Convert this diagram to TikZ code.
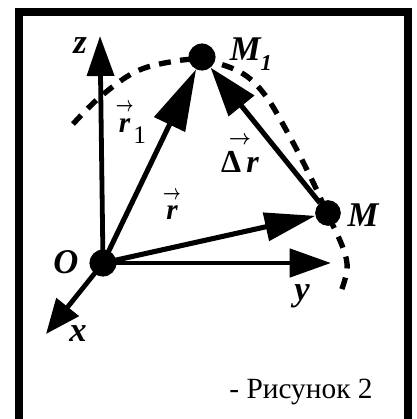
\documentclass[tikz,border=0pt]{standalone}
\usepackage{amsmath}
\usepackage{fontspec}
\setmainfont{Liberation Serif}
\usetikzlibrary{arrows.meta}
\tikzset{
  dot/.style    = {circle, fill=black, inner sep=0pt, minimum size=20pt},
  axis/.style   = {line width=3.6pt},
  vecar/.style  = {line width=3.8pt},
  traj/.style   = {line width=4pt, dash pattern=on 9pt off 7pt},
  lbl/.style    = {font=\fontsize{26}{26}\selectfont\bfseries\itshape, inner sep=0pt},
  vlbl/.style   = {font=\fontsize{22}{22}\selectfont\bfseries\itshape, inner sep=0pt},
  frame/.style  = {line width=5.5pt, line join=miter},
}
\newcommand{\arrowtop}[2]{$\overset{\raisebox{1pt}{\scalebox{#2}[1.1]{\boldmath$\scriptstyle\rightarrow$}}}{\mbox{#1}}$}
\begin{document}
\begin{tikzpicture}[x=0.75pt, y=-0.75pt]
  \useasboundingbox (0,0) rectangle (417,419);
  \draw[frame] (19,430) -- (19,12) -- (408,12) -- (408,430);

  % points
  \node[dot] (O)  at (103,263) {};
  \node[dot, minimum size=19pt] (M)  at (328,213) {};
  \node[dot] (M1) at (202,57) {};
  \coordinate (zend) at (100,36);
  \coordinate (yend) at (331,263);
  \coordinate (xend) at (46,334);

  % trajectory
  \draw[traj] plot[smooth, tension=0.6] coordinates {
    (73,124) (100,97) (135,72) (170,62) (202,60) (240,72) (265,95)
    (290,137) (312,180) (328,215) (343,248) (347,270) (339,297)};

  % axes
  \draw[axis, -{Triangle[length=30pt, width=20pt]}] (O.center) -- (zend);
  \draw[axis, -{Triangle[length=31pt, width=21pt]}] (O.center) -- (yend);
  \draw[axis, -{Triangle[length=26pt, width=21pt]}] (O.center) -- (xend);

  % vectors
  \draw[vecar, -{Triangle[length=46pt, width=25pt]}] (O.center) -- (M1);
  \draw[vecar, -{Triangle[length=38pt, width=21pt]}] (O.center) -- (M);
  \draw[vecar, -{Triangle[length=37pt, width=24pt]}] (M) -- (M1);

  \node[dot] at (O) {};
  \node[dot, minimum size=19pt] at (M) {};
  \node[dot] at (M1) {};

  % labels
  \node[lbl] (zl)  at (80,46)   {z};
  \node[lbl] (yl)  at (302,296) {y};
  \node[lbl] (xl)  at (78,334)  {x};
  \node[lbl] (Ol)  at (66,262)  {O};
  \node[lbl] (Ml)  at (363,215) {M};
  \node[lbl] (M1l) at (251,54)  {M\raisebox{-7pt}{\fontsize{17}{17}\selectfont 1}};
  \node[vlbl] (r1l) at (131,122) {\arrowtop{r}{0.8}\raisebox{-8pt}{\fontsize{19}{19}\selectfont\mdseries\upshape 1}};
  \node[vlbl] (rl)  at (172,204) {\arrowtop{r}{0.8}};
  \node[vlbl] (drl) at (240,153) {\arrowtop{\fontsize{24}{24}\selectfont\upshape Δ\hspace{4pt}\itshape r}{1}};

  \node[font=\fontsize{22}{22}\selectfont, inner sep=0pt] (cap) at (301,392) {- Рисунок 2};
\end{tikzpicture}
\end{document}
